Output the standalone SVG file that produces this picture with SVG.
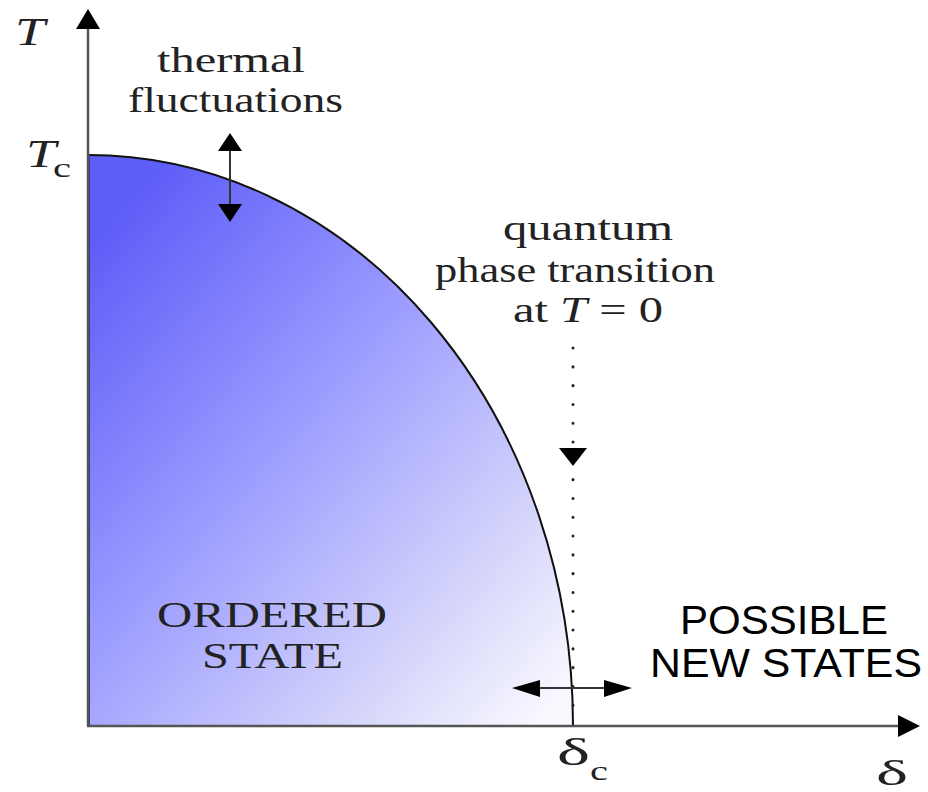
<svg xmlns="http://www.w3.org/2000/svg" width="928" height="792" viewBox="0 0 928 792">
<defs>
<linearGradient id="fillg" gradientUnits="userSpaceOnUse" x1="88" y1="250" x2="575" y2="680">
<stop offset="0" stop-color="#5e5ef8"/>
<stop offset="0.4" stop-color="#9a9aff"/>
<stop offset="0.8" stop-color="#d8d8fb"/>
<stop offset="1" stop-color="#f8f8ff"/>
</linearGradient>
<style>
.serif{font-family:"Liberation Serif","Times New Roman",serif;fill:#222;}
.sans{font-family:"Liberation Sans",Arial,sans-serif;fill:#000;}
.axis{stroke:#555;stroke-width:2.5;fill:none;}
.head{fill:#000;}
.arr{stroke:#333;stroke-width:2;fill:none;}
</style>
</defs>
<g id="region">
<path d="M88,726 L88,155 A485,571 0 0 1 573,726 Z" fill="url(#fillg)" stroke="none"/>
<path d="M88,155 A485,571 0 0 1 573,726" fill="none" stroke="#111" stroke-width="2"/>
<line x1="89" y1="155" x2="89" y2="726" stroke="#3a3a8a" stroke-width="2"/>
</g>
<g id="axes">
<line class="axis" x1="88" y1="726" x2="88" y2="26"/>
<path class="head" d="M88,9 L100,29 L76,29 Z"/>
<line class="axis" x1="87" y1="726" x2="900" y2="726"/>
<path class="head" d="M920,726 L898,715 L898,737 Z"/>
</g>
<g id="connectors">
<line class="arr" x1="230" y1="148" x2="230" y2="208"/>
<path class="head" d="M230,133 L242,151 L218,151 Z"/>
<path class="head" d="M230,222 L242,204 L218,204 Z"/>
<line x1="573" y1="348" x2="573" y2="724" stroke="#222" stroke-width="3" stroke-dasharray="0.1 18.7" stroke-linecap="round"/>
<path class="head" d="M573,466 L587,448 L559,448 Z"/>
<line class="arr" x1="525" y1="688" x2="620" y2="688"/>
<path class="head" d="M512,688 L540,680 L540,697 Z"/>
<path class="head" d="M632,688 L604,680 L604,697 Z"/>
</g>
<g id="labels">
<text class="serif" x="15" y="45" font-size="40" font-style="italic" textLength="30" lengthAdjust="spacingAndGlyphs">T</text>
<text class="serif" x="26" y="167" font-size="40" font-style="italic" textLength="30" lengthAdjust="spacingAndGlyphs">T</text>
<text class="serif" x="53" y="177" font-size="28" textLength="18" lengthAdjust="spacingAndGlyphs">c</text>
<text class="serif" x="157" y="72" font-size="36" textLength="148" lengthAdjust="spacingAndGlyphs">thermal</text>
<text class="serif" x="128" y="112" font-size="36" textLength="215" lengthAdjust="spacingAndGlyphs">fluctuations</text>
<text class="serif" x="503" y="240" font-size="36" textLength="170" lengthAdjust="spacingAndGlyphs">quantum</text>
<text class="serif" x="435" y="282" font-size="36" textLength="280" lengthAdjust="spacingAndGlyphs">phase transition</text>
<text class="serif" x="513" y="322" font-size="36" textLength="150" lengthAdjust="spacingAndGlyphs">at <tspan font-style="italic">T</tspan> = 0</text>
<text class="serif" x="157" y="627" font-size="35" textLength="230" lengthAdjust="spacingAndGlyphs">ORDERED</text>
<text class="serif" x="202" y="668" font-size="35" textLength="141" lengthAdjust="spacingAndGlyphs">STATE</text>
<text class="sans" x="680" y="634" font-size="40" textLength="208" lengthAdjust="spacingAndGlyphs">POSSIBLE</text>
<text class="sans" x="650" y="677" font-size="40" textLength="272" lengthAdjust="spacingAndGlyphs">NEW STATES</text>
<text class="serif" x="557" y="765" font-size="38" textLength="33" lengthAdjust="spacingAndGlyphs">δ</text>
<text class="serif" x="590" y="780" font-size="28" textLength="18" lengthAdjust="spacingAndGlyphs">c</text>
<text class="serif" x="876" y="785" font-size="36" textLength="32" lengthAdjust="spacingAndGlyphs">δ</text>
</g>
</svg>
